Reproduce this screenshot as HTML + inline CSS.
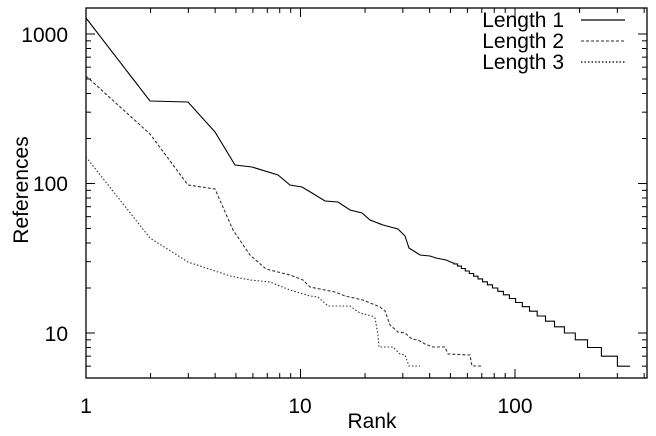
<!DOCTYPE html>
<html><head><style>body{margin:0;background:#fff}svg{display:block}</style></head><body>
<svg id="s" width="656" height="436" xmlns="http://www.w3.org/2000/svg" font-family="Liberation Sans, Arial, sans-serif">
<rect x="0" y="0" width="656" height="436" fill="#fff"/>
<g id="ticks" stroke="#000" stroke-width="1"></g>
<rect x="86" y="8" width="561" height="370" fill="none" stroke="#000" stroke-width="1.3"/>
<g font-size="21" fill="#000">
<text x="68" y="42" text-anchor="end">1000</text>
<text x="68" y="191" text-anchor="end">100</text>
<text x="68" y="341" text-anchor="end">10</text>
<text x="86" y="413" text-anchor="middle">1</text>
<text x="300" y="413" text-anchor="middle">10</text>
<text x="515" y="413" text-anchor="middle">100</text>
<text x="372" y="428" text-anchor="middle">Rank</text>
<text transform="translate(28,190) rotate(-90)" text-anchor="middle">References</text>
<text x="564" y="27" text-anchor="end">Length 1</text>
<text x="564" y="48" text-anchor="end">Length 2</text>
<text x="564" y="69" text-anchor="end">Length 3</text>
</g>
<line x1="581" y1="20" x2="625" y2="20" stroke="#000" stroke-width="1.2"/>
<line x1="581" y1="41" x2="625" y2="41" stroke="#555" stroke-width="1.2" stroke-dasharray="3,2"/>
<line x1="581" y1="62" x2="625" y2="62" stroke="#000" stroke-width="1.2" stroke-dasharray="1.5,2"/>
<polyline id="l1" fill="none" stroke="#000" stroke-width="1.1"/>
<polyline id="l2" fill="none" stroke="#333" stroke-width="1.1" stroke-dasharray="3,2" points="86,76 150,134 188,185 215,189 233,230 250,255 266,269 290,275 303,280 310,287 320,289 335,292 345,296 363,300 380,307 385,311 390,325 398,332 405,333 412,339 418,340 425,344 433,347 445,347 448,354 470,355 472,366 482,366"/>
<polyline fill="none" stroke="#333" stroke-width="1.1" stroke-dasharray="1.5,2" points="86,157 150,238 188,262 230,276 250,280 270,282 290,290 310,296 318,297 328,306 350,306 360,313 372,316 375,318 378,335 379,347 393,347 400,354 405,355 409,366 420,366"/>
</svg>
<script>
var X=function(r){return 86+214.5*Math.log10(r)},Y=function(v){return 333-149.5*Math.log10(v/10)};
var t="";
for(var d=1;d<=100;d*=10)for(var k=1;k<10;k++){var r=d*k;if(r>412)break;var x=X(r),L=k==1?9:5;t+='<line x1="'+x+'" y1="378" x2="'+x+'" y2="'+(378-L)+'"/><line x1="'+x+'" y1="8" x2="'+x+'" y2="'+(8+L)+'"/>';}
for(var d=1;d<=1000;d*=10)for(var k=1;k<10;k++){var v=d*k;if(v<5||v>1516)continue;var y=Y(v),L=k==1?9:5;t+='<line x1="86" y1="'+y+'" x2="'+(86+L)+'" y2="'+y+'"/><line x1="647" y1="'+y+'" x2="'+(647-L)+'" y2="'+y+'"/>';}
document.getElementById("ticks").innerHTML=t;
var p=[[86,18],[150,101],[188,102],[215,132],[235,165],[252,167],[278,175],[290,185],[302,187],[312,193],[325,201],[338,202],[350,210],[362,213],[370,220],[383,225],[398,229],[405,236],[409,248],[420,255],[430,256],[436,258],[446,260],[453,263]];
var a=0.898,px=453,py=263;
for(var v=29;v>=6;v--){var r=50*Math.pow(30/v,1/a);var x=X(r);if(x<px)continue;p.push([x,py]);py=Y(v);p.push([x,py]);px=x;}
p.push([630,py]);
document.getElementById("l1").setAttribute("points",p.map(function(q){return q[0].toFixed(1)+","+q[1].toFixed(1)}).join(" "));
</script>
</body></html>
